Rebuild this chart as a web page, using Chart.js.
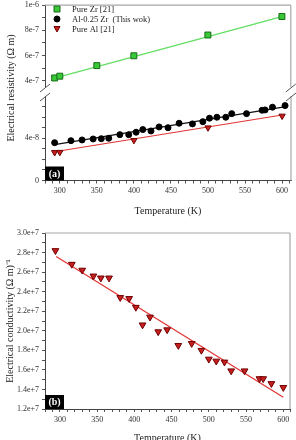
<!DOCTYPE html>
<html lang="en">
<head>
<meta charset="utf-8" />
<script src="https://cdn.jsdelivr.net/npm/chart.js"></script>
<style>
  html, body { margin: 0; padding: 0; background: #fff; }
  body { width: 296px; height: 440px; overflow: hidden; position: relative; font-family: "Liberation Serif", serif; }
  .box { position: absolute; left: 0; width: 296px; }
  #ytitleTop { position: absolute; width: 160px; height: 14px; line-height: 14px; left: -69px; top: 81px;
    text-align: center; font-size: 10px; color: #222; transform: rotate(-90deg); white-space: nowrap; }
</style>
</head>
<body>
<div class="box" style="top:0;height:100px"><canvas id="chartHigh"></canvas></div>
<div class="box" style="top:84px;height:136px"><canvas id="chartLow"></canvas></div>
<div class="box" style="top:220px;height:230px"><canvas id="chartCond"></canvas></div>
<div id="ytitleTop">Electrical resistivity (Ω m)</div>
<script>
// series names for the legend of panel (a)
var seriesNames = ['Pure Zr [21]', 'Al-0.25 Zr  (This wok)', 'Pure Al [21]'];

// panel (a): resistivity, ohm m
var tempZr = [293, 300, 350, 400, 500, 600];
var rhoZr = [4.22e-7, 4.36e-7, 5.20e-7, 5.98e-7, 7.63e-7, 9.10e-7];
var tempAlZr = [293, 315, 330, 345, 356, 366, 381, 393, 403, 412, 423, 434, 446, 461, 479, 493, 502, 512, 524, 532, 552, 573, 577, 587, 604];
var rhoAlZr = [3.58e-8, 3.77e-8, 3.84e-8, 3.93e-8, 3.96e-8, 4.00e-8, 4.34e-8, 4.34e-8, 4.57e-8, 4.82e-8, 4.69e-8, 5.07e-8, 5.00e-8,
  5.42e-8, 5.36e-8, 5.57e-8, 5.90e-8, 5.99e-8, 5.99e-8, 6.33e-8, 6.33e-8, 6.65e-8, 6.68e-8, 6.94e-8, 7.09e-8];
var tempAl = [293, 300, 400, 500, 600];
var rhoAl = [2.66e-8, 2.68e-8, 3.81e-8, 5.00e-8, 6.11e-8];

// fitted lines in panel (a)
var fitTempZr = [293, 600];
var fitRhoZr = [4.2e-7, 9.1e-7];
var fitTempAlZr = [293, 605];
var fitRhoAlZr = [3.4e-8, 7.0e-8];
var fitTempAl = [293, 600];
var fitRhoAl = [2.72e-8, 6.2e-8];

// panel (b): conductivity, (ohm m)^-1
var tempCond = [294, 316, 330, 345, 355, 366, 381, 393, 402, 411, 421, 432, 444, 459, 477, 490, 500, 510, 521, 530, 548, 568, 573, 584, 600];
var sigmaAlZr = [2.82e7, 2.68e7, 2.62e7, 2.56e7, 2.54e7, 2.54e7, 2.34e7, 2.33e7, 2.24e7, 2.06e7, 2.14e7, 1.99e7, 2.01e7,
  1.85e7, 1.87e7, 1.80e7, 1.71e7, 1.69e7, 1.68e7, 1.59e7, 1.59e7, 1.51e7, 1.51e7, 1.46e7, 1.42e7];
var fitTempCond = [295, 600];
var fitSigma = [2.76e7, 1.32e7];

// tick labels
var tempTicks = [300, 350, 400, 450, 500, 550, 600];
var rhoHighTicks = [4e-7, 6e-7, 8e-7, 1e-6];
var rhoHighLabels = ['4e-7', '6e-7', '8e-7', '1e-6'];
var rhoLowTicks = [0, 4e-8];
var rhoLowLabels = ['0', '4e-8'];
var sigmaTicks = [1.2e7, 1.4e7, 1.6e7, 1.8e7, 2.0e7, 2.2e7, 2.4e7, 2.6e7, 2.8e7, 3.0e7];
var sigmaLabels = ['1.2e+7', '1.4e+7', '1.6e+7', '1.8e+7', '2.0e+7', '2.2e+7', '2.4e+7', '2.6e+7', '2.8e+7', '3.0e+7'];

var zrFill = '#38c838', zrEdge = '#156a15', zrLine = '#62de62';
var alzrFill = '#000', alzrLine = '#111';
var alFill = '#c81e1e', alEdge = '#6e0000', alLine = '#e23535';

Chart.defaults.font.family = "'Liberation Serif', 'Times New Roman', serif";
Chart.defaults.color = '#333';

function pts(xs, ys) {
  return xs.map(function (x, i) { return { x: x, y: ys[i] }; });
}

// ticks every `step` from a to b, labels only where listed
function tickList(a, b, step) {
  var out = [];
  for (var i = 0; a + i * step <= b + step * 1e-6; i++) out.push({ value: a + i * step });
  return out;
}
function labelFor(values, labels) {
  return function (v) {
    for (var i = 0; i < values.length; i++) {
      var tol = Math.abs(values[1] - values[0]) * 0.01;
      if (Math.abs(v - values[i]) < tol) return labels[i];
    }
    return '';
  };
}

function yAxis(min, max, minor, values, labels, extra) {
  var ax = {
    type: 'linear', min: min, max: max,
    afterBuildTicks: function (s) { s.ticks = tickList(minor.from, minor.to, minor.step); },
    afterFit: function (s) { s.width = 45; s.paddingTop = 0; s.paddingBottom = 0; },
    ticks: { autoSkip: false, padding: 3, font: { size: 8 }, color: '#333', callback: labelFor(values, labels) },
    grid: { drawOnChartArea: false, tickLength: 3, tickColor: '#555' },
    border: { color: '#444', width: 1 }
  };
  return Object.assign(ax, extra || {});
}

function xAxis(max, height, titlePad) {
  return {
    type: 'linear', min: 280, max: max,
    afterBuildTicks: function (s) { s.ticks = tickList(280, 610, 10); },
    afterFit: function (s) { s.height = height; s.paddingLeft = 0; s.paddingRight = 0; },
    ticks: { autoSkip: false, maxRotation: 0, padding: 3, font: { size: 8 }, color: '#333',
      callback: function (v) { return tempTicks.indexOf(Math.round(v)) >= 0 && Math.abs(v - Math.round(v)) < 1e-6 ? String(Math.round(v)) : ''; } },
    grid: { drawOnChartArea: false, tickLength: 3, tickColor: '#555' },
    border: { color: '#444', width: 1 },
    title: { display: true, text: 'Temperature (K)', color: '#222', font: { size: 10 }, padding: { top: 0, bottom: titlePad } }
  };
}

// frame lines, axis-break marks and the (a)/(b) tag
var framePlugin = {
  id: 'frame',
  afterDraw: function (chart, args, o) {
    var a = chart.chartArea, ctx = chart.ctx;
    ctx.save();
    ctx.strokeStyle = '#a8a8a8';
    ctx.lineWidth = 1.2;
    ctx.beginPath();
    if (o.top) { ctx.moveTo(a.left, a.top); ctx.lineTo(a.right, a.top); }
    if (o.right) { ctx.moveTo(a.right, a.top); ctx.lineTo(a.right, a.bottom); }
    ctx.stroke();
    if (o.breakAt) {
      var y = o.breakAt === 'bottom' ? a.bottom + 1 : a.top + 1;
      ctx.strokeStyle = '#555';
      ctx.lineWidth = 1;
      [a.left, a.right].forEach(function (x) {
        ctx.beginPath();
        ctx.moveTo(x - 5, y + 4);
        ctx.lineTo(x + 5, y - 4);
        ctx.stroke();
      });
    }
    if (o.tag) {
      ctx.fillStyle = '#000';
      ctx.fillRect(a.left, a.bottom - 14, 19, 14);
      ctx.fillStyle = '#fff';
      ctx.font = 'bold 10px "Liberation Serif", serif';
      ctx.textAlign = 'center';
      ctx.textBaseline = 'middle';
      ctx.fillText(o.tag, a.left + 9.5, a.bottom - 6.5);
    }
    ctx.restore();
  }
};

// legend drawn inside the plot of panel (a)
var legendPlugin = {
  id: 'inLegend',
  afterDraw: function (chart) {
    var ctx = chart.ctx, x = chart.chartArea.left + 12;
    ctx.save();
    ctx.font = '8.5px "Liberation Serif", serif';
    ctx.textBaseline = 'middle';
    ctx.textAlign = 'left';
    seriesNames.forEach(function (name, i) {
      var y = 9 + i * 10;
      ctx.beginPath();
      if (i === 0) {
        ctx.fillStyle = zrFill; ctx.strokeStyle = zrEdge; ctx.lineWidth = 1;
        ctx.rect(x - 3, y - 3, 6, 6);
      } else if (i === 1) {
        ctx.fillStyle = alzrFill; ctx.strokeStyle = alzrFill; ctx.lineWidth = 1;
        ctx.arc(x, y, 3, 0, Math.PI * 2);
      } else {
        ctx.fillStyle = alFill; ctx.strokeStyle = alEdge; ctx.lineWidth = 1;
        ctx.moveTo(x - 3, y - 2.5); ctx.lineTo(x + 3, y - 2.5); ctx.lineTo(x, y + 3); ctx.closePath();
      }
      ctx.fill();
      ctx.stroke();
      ctx.fillStyle = '#222';
      ctx.fillText(name, x + 15, y + 0.5);
    });
    ctx.restore();
  }
};

var base = {
  responsive: true, maintainAspectRatio: false, animation: false,
  plugins: { legend: { display: false }, tooltip: { enabled: false } }
};

function opts(extra) {
  return Object.assign({}, base, extra, { plugins: Object.assign({}, base.plugins, extra.plugins) });
}

// panel (a), upper part of the broken axis
new Chart(document.getElementById('chartHigh'), {
  type: 'scatter',
  data: {
    datasets: [
      { label: seriesNames[0], data: pts(tempZr, rhoZr), pointStyle: 'rect', pointRadius: 4.2,
        backgroundColor: zrFill, borderColor: zrEdge, borderWidth: 1 },
      { data: pts(fitTempZr, fitRhoZr), showLine: true, pointRadius: 0, borderColor: zrLine, borderWidth: 1.3 }
    ]
  },
  options: opts({
    layout: { padding: { top: 1, right: 3.3, bottom: 13, left: 0 } },
    plugins: { frame: { top: true, right: true, breakAt: 'bottom' } },
    scales: {
      x: { type: 'linear', min: 280, max: 612, display: false },
      y: yAxis(3.5e-7, 1e-6, { from: 4e-7, to: 1e-6, step: 1e-7 }, rhoHighTicks, rhoHighLabels)
    }
  }),
  plugins: [framePlugin, legendPlugin]
});

// panel (a), lower part of the broken axis
new Chart(document.getElementById('chartLow'), {
  type: 'scatter',
  data: {
    datasets: [
      { label: seriesNames[1], data: pts(tempAlZr, rhoAlZr), pointStyle: 'circle', pointRadius: 3,
        backgroundColor: alzrFill, borderColor: alzrFill, borderWidth: 1 },
      { label: seriesNames[2], data: pts(tempAl, rhoAl), pointStyle: 'triangle', rotation: 180, pointRadius: 3.6,
        backgroundColor: alFill, borderColor: alEdge, borderWidth: 1 },
      { data: pts(fitTempAlZr, fitRhoAlZr), showLine: true, pointRadius: 0, borderColor: alzrLine, borderWidth: 1.2 },
      { data: pts(fitTempAl, fitRhoAl), showLine: true, pointRadius: 0, borderColor: alLine, borderWidth: 1.2 }
    ]
  },
  options: opts({
    layout: { padding: { top: 12, right: 3.3, bottom: 0, left: 0 } },
    plugins: { frame: { right: true, breakAt: 'top', tag: '(a)' } },
    scales: {
      x: xAxis(612, 39.5, 2.5),
      y: yAxis(0, 8e-8, { from: 0, to: 7e-8, step: 1e-8 }, rhoLowTicks, rhoLowLabels)
    }
  }),
  plugins: [framePlugin]
});

// panel (b): conductivity
new Chart(document.getElementById('chartCond'), {
  type: 'scatter',
  data: {
    datasets: [
      { label: seriesNames[1], data: pts(tempCond, sigmaAlZr), pointStyle: 'triangle', rotation: 180, pointRadius: 3.9,
        backgroundColor: alFill, borderColor: alEdge, borderWidth: 1 },
      { data: pts(fitTempCond, fitSigma), showLine: true, pointRadius: 0, borderColor: alLine, borderWidth: 1.3 }
    ]
  },
  options: opts({
    layout: { padding: { top: 13, right: 6, bottom: 0, left: 0 } },
    plugins: { frame: { top: true, right: true, tag: '(b)' } },
    scales: {
      x: xAxis(609, 41, 6),
      y: yAxis(1.2e7, 3.0e7, { from: 1.2e7, to: 3.0e7, step: 1e6 }, sigmaTicks, sigmaLabels, {
        title: { display: true, text: 'Electrical conductivity (Ω m)⁻¹', color: '#222', font: { size: 10 }, padding: { top: 4, bottom: 0 } }
      })
    }
  }),
  plugins: [framePlugin]
});
</script>
</body>
</html>
